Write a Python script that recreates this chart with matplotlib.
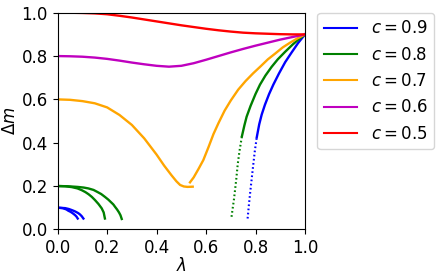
import matplotlib
matplotlib.use("Agg")
import matplotlib.pyplot as plt

plt.rcParams['font.size'] = 12

# c = 0.5 (red)
red_x = [0.0, 0.05, 0.1, 0.15, 0.2, 0.25, 0.3, 0.35, 0.4, 0.45, 0.5,
         0.55, 0.6, 0.65, 0.7, 0.75, 0.8, 0.85, 0.9, 0.95, 1.0]
red_y = [1.0, 1.0, 0.999, 0.997, 0.993, 0.986, 0.978, 0.969, 0.96, 0.951, 0.942,
         0.934, 0.926, 0.919, 0.913, 0.908, 0.905, 0.903, 0.901, 0.9, 0.9]

# c = 0.6 (magenta)
mag_x = [0.0, 0.05, 0.1, 0.15, 0.2, 0.25, 0.3, 0.35, 0.4, 0.45, 0.5,
         0.55, 0.6, 0.65, 0.7, 0.75, 0.8, 0.85, 0.9, 0.95, 1.0]
mag_y = [0.8, 0.799, 0.797, 0.793, 0.787, 0.779, 0.77, 0.762, 0.755, 0.751, 0.755,
         0.767, 0.783, 0.8, 0.817, 0.833, 0.848, 0.862, 0.876, 0.888, 0.9]

# c = 0.7 (orange), falling branch and rising branch
or1_x = [0.0, 0.05, 0.1, 0.15, 0.2, 0.25, 0.3, 0.35, 0.4, 0.43, 0.46, 0.48,
         0.495, 0.51, 0.525, 0.546]
or1_y = [0.6, 0.598, 0.592, 0.582, 0.563, 0.528, 0.482, 0.42, 0.345, 0.295, 0.25, 0.222,
         0.205, 0.198, 0.196, 0.197]
or2_x = [0.535, 0.55, 0.57, 0.589, 0.61, 0.63, 0.65, 0.675, 0.7, 0.73, 0.76, 0.79,
         0.82, 0.85, 0.88, 0.91, 0.94, 0.97, 1.0]
or2_y = [0.217, 0.24, 0.28, 0.32, 0.38, 0.44, 0.49, 0.548, 0.595, 0.645, 0.685, 0.72,
         0.752, 0.785, 0.812, 0.84, 0.862, 0.882, 0.9]

# c = 0.8 (green), two small arcs and right branch
gr1_x = [0.0, 0.03, 0.057, 0.08, 0.097, 0.112, 0.125, 0.138, 0.151, 0.165, 0.178, 0.186, 0.191]
gr1_y = [0.2, 0.199, 0.195, 0.189, 0.181, 0.172, 0.162, 0.15, 0.135, 0.117, 0.097, 0.078, 0.05]
gr2_x = [0.0, 0.04, 0.08, 0.105, 0.124, 0.145, 0.16, 0.176, 0.191, 0.205, 0.215, 0.225,
         0.232, 0.24, 0.248, 0.254, 0.259]
gr2_y = [0.2, 0.199, 0.196, 0.193, 0.189, 0.182, 0.173, 0.163, 0.15, 0.137, 0.126, 0.115,
         0.104, 0.092, 0.078, 0.065, 0.048]
gr3_x = [0.703, 0.708, 0.713, 0.717, 0.722, 0.728, 0.735, 0.745, 0.755, 0.764, 0.78, 0.8,
         0.818, 0.84, 0.865, 0.89, 0.92, 0.95, 0.975, 1.0]
gr3_y = [0.058, 0.1, 0.14, 0.18, 0.23, 0.3, 0.36, 0.43, 0.48, 0.52, 0.57, 0.625,
         0.668, 0.71, 0.75, 0.785, 0.82, 0.853, 0.878, 0.9]

# c = 0.9 (blue), two small arcs and right branch
bl1_x = [0.0, 0.02, 0.035, 0.043, 0.052, 0.06, 0.07, 0.076, 0.081]
bl1_y = [0.1, 0.098, 0.092, 0.086, 0.081, 0.075, 0.066, 0.059, 0.05]
bl2_x = [0.0, 0.03, 0.045, 0.057, 0.068, 0.075, 0.083, 0.09, 0.097, 0.104]
bl2_y = [0.1, 0.098, 0.094, 0.089, 0.084, 0.08, 0.075, 0.069, 0.061, 0.05]
bl3_x = [0.768, 0.773, 0.778, 0.784, 0.79, 0.797, 0.805, 0.815, 0.825, 0.838, 0.855,
         0.872, 0.895, 0.92, 0.945, 0.972, 1.0]
bl3_y = [0.05, 0.11, 0.166, 0.228, 0.29, 0.36, 0.425, 0.485, 0.53, 0.575, 0.625,
         0.668, 0.72, 0.772, 0.815, 0.86, 0.9]

labels = ['$c = 0.9$', '$c = 0.8$', '$c = 0.7$', '$c = 0.6$', '$c = 0.5$']
colors = ['blue', 'green', 'orange', 'm', 'red']

fig = plt.figure(figsize=(4.36, 2.77), dpi=100)
ax = fig.add_axes([0.1323, 0.172, 0.5672, 0.782])

lw = 1.7
dots = (0, (0.8, 1.2))
# blue
ax.plot(bl1_x, bl1_y, color='blue', lw=lw)
ax.plot(bl2_x, bl2_y, color='blue', lw=lw)
ax.plot(bl3_x[:7], bl3_y[:7], color='blue', lw=1.5, ls=dots)
ax.plot(bl3_x[6:], bl3_y[6:], color='blue', lw=lw)
# green
ax.plot(gr1_x, gr1_y, color='green', lw=lw)
ax.plot(gr2_x, gr2_y, color='green', lw=lw)
ax.plot(gr3_x[:8], gr3_y[:8], color='green', lw=1.5, ls=dots)
ax.plot(gr3_x[7:], gr3_y[7:], color='green', lw=lw)
# orange
ax.plot(or1_x, or1_y, color='orange', lw=lw)
ax.plot(or2_x, or2_y, color='orange', lw=lw)
# magenta, red
ax.plot(mag_x, mag_y, color='m', lw=lw)
ax.plot(red_x, red_y, color='red', lw=lw)

handles = [plt.Line2D([], [], color=c, lw=1.5) for c in colors]
ax.legend(handles, labels, loc='upper left', bbox_to_anchor=(1.05, 1.0),
          borderaxespad=0, fontsize=12)

ax.set_xlim(0, 1)
ax.set_ylim(0, 1)
ax.set_xticks([0, 0.2, 0.4, 0.6, 0.8, 1.0])
ax.set_yticks([0, 0.2, 0.4, 0.6, 0.8, 1.0])
ax.set_xlabel(r'$\lambda$', labelpad=0)
ax.set_ylabel(r'$\Delta m$', labelpad=2)

fig.savefig('out.png', dpi=100)
